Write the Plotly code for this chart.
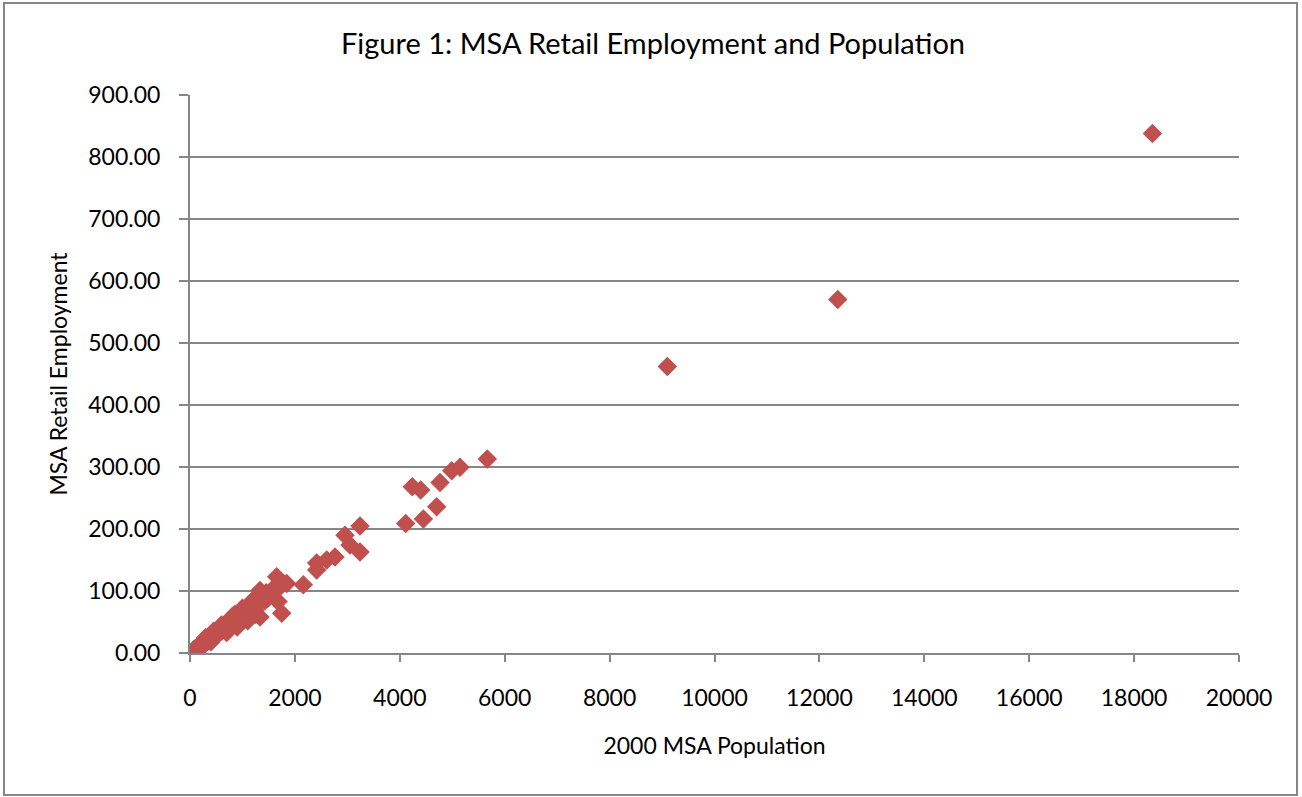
import plotly.graph_objects as go

# 2000 MSA population (thousands) and MSA retail employment (thousands)
population = [60, 70, 80, 95, 105, 115, 125, 140, 150, 160, 170, 185, 195, 210, 225,
              240, 250, 265, 280, 295, 310, 325, 340, 360, 375, 395, 410, 430, 450, 475,
              500, 520, 545, 570, 600, 630, 660, 690, 720, 750, 790, 830, 870, 910, 950,
              1000, 1040, 1090, 1130, 1180, 1230, 1250, 1280, 1335, 1335, 1367, 1420, 1480,
              1540, 1590, 1653, 1678, 1716, 1748, 1843, 2160, 2415, 2415, 2606, 2764,
              2955, 3050, 3241, 3241, 4112, 4238, 4398, 4449, 4703, 4766, 4989, 5148,
              5668, 9100, 12350, 18350,
              300, 450, 600, 800, 1000, 1200, 400, 700, 900, 1100, 130, 220,
              550, 850, 1150, 1450]
retail_emp = [3.5, 4.8, 4.5, 6.3, 6.0, 7.8, 7.1, 9.5, 8.7, 10.8, 10.0, 12.5, 11.3, 14.2, 13.0,
              16.0, 14.6, 18.0, 16.5, 20.0, 18.2, 22.0, 19.5, 24.3, 21.8, 26.5, 24.0, 29.0, 26.2, 31.5,
              29.5, 35.0, 32.0, 37.5, 35.0, 41.0, 38.5, 45.0, 42.0, 49.0, 46.0, 54.0, 50.0, 58.0, 55.0,
              64.0, 60.0, 70.0, 65.0, 74.0, 69.0, 62.0, 80.0, 101.0, 58.0, 91.0, 84.0, 88.0,
              95.0, 104.0, 123.0, 83.0, 107.0, 64.0, 112.0, 110.0, 145.0, 134.0, 150.0, 155.0,
              190.0, 174.0, 205.0, 163.0, 209.0, 268.0, 263.0, 216.0, 236.0, 275.0, 294.0, 299.5,
              313.0, 462.0, 570.0, 838.0,
              25.0, 35.0, 45.0, 58.0, 72.0, 85.0, 18.0, 33.0, 42.0, 52.0, 4.0, 9.0,
              40.0, 62.0, 78.0, 97.0]

x_ticks = list(range(0, 20001, 2000))
y_ticks = list(range(0, 901, 100))

FONT = "Lato"
AX = "#868686"

fig = go.Figure(go.Scatter(
    x=population, y=retail_emp, mode="markers",
    marker=dict(symbol="diamond", size=15, color="#C0504D", line=dict(width=0)),
    showlegend=False, hoverinfo="x+y"))

L, R, T, B = 190, 63, 95, 144
W, H = 1302, 797
pw, ph = W - L - R, H - T - B

fig.update_layout(
    width=W, height=H,
    margin=dict(l=L, r=R, t=T, b=B, pad=0),
    paper_bgcolor="white", plot_bgcolor="white",
    font=dict(family=FONT, color="black", size=23),
    title=dict(text="Figure 1: MSA Retail Employment and Population",
               x=653 / W, xref="container", xanchor="center", y=1 - 44 / H, yanchor="middle",
               font=dict(size=29, family=FONT, color="black")),
    xaxis=dict(range=[0, 20000], tickmode="array", tickvals=x_ticks,
               ticktext=[str(v) for v in x_ticks],
               showgrid=False, zeroline=False, showline=True, linecolor=AX, linewidth=2,
               ticks="outside", ticklen=7, tickwidth=2, tickcolor=AX,
               ticklabelstandoff=16, tickfont=dict(size=23),
               title=dict(text="2000 MSA Population", font=dict(size=23), standoff=28)),
    yaxis=dict(range=[0, 900], tickmode="array", tickvals=y_ticks,
               ticktext=[f"{v:.2f}" for v in y_ticks],
               showgrid=True, gridcolor=AX, gridwidth=1.5, zeroline=False,
               showline=True, linecolor=AX, linewidth=2,
               ticks="outside", ticklen=9, tickwidth=2, tickcolor=AX,
               ticklabelstandoff=14, tickfont=dict(size=23),
               title=dict(text="MSA Retail Employment", font=dict(size=23), standoff=14)),
    shapes=[dict(type="rect", xref="paper", yref="paper",
                 x0=(4 - L) / pw, x1=(1297 - L) / pw,
                 y0=(H - B - 795) / ph, y1=(H - B - 3) / ph,
                 line=dict(color=AX, width=2), fillcolor="rgba(0,0,0,0)", layer="below")],
)

fig.write_html("out.html")
